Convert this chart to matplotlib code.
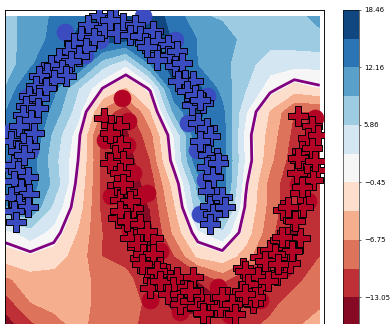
import numpy as np
import matplotlib
matplotlib.use('Agg')
import matplotlib.pyplot as plt

# decision-function grid (rows top -> bottom)
grid_x = [-1.10, -0.84, -0.60, -0.35, -0.10, 0.14, 0.39, 0.64, 0.88, 1.13, 1.37, 1.62, 1.87, 2.13]
grid_y = [1.02, 0.90, 0.77, 0.65, 0.53, 0.41, 0.28, 0.16, 0.04, -0.09, -0.21, -0.33, -0.46, -0.57]
grid_z = [
    [7.4, 10.6, 12.5, 14.5, 16, 17, 17, 14, 9.5, 8.5, 7.4, 7.5, 8, 10],
    [7.5, 10.5, 13, 16, 17, 16, 17, 15, 12, 10.5, 8, 7, 7.5, 8],
    [7, 11.5, 16, 15, 7, 3, 12, 17, 12, 10, 7, 4, 3.5, 3.5],
    [9, 16, 13, 6, 0, -4, 0.5, 15, 16, 11, 6, 1, -2, -0.5],
    [12, 16, 11, 4, -8, -12, -4, 10, 16, 13, 3, -4, -10, -10],
    [15, 16, 8, 1, -12, -14, -8, 3, 15, 14, 1.5, -5, -11, -13],
    [14, 14, 7, 0, -11, -15, -10, 2, 15, 14, 2, -6, -12, -13],
    [14, 14, 8, -1, -11, -15, -12, -2, 10, 14, 0.5, -8, -13, -13],
    [12, 12, 5, -2, -11, -14, -13, -4, 8, 12, -0.5, -8, -13, -13],
    [1.5, 4.5, 1.5, -4, -10, -12, -14, -6, 2, 5, -2, -9, -14, -11],
    [-2, -1, -2, -5, -10, -11, -13, -10, -3, -1.5, -5, -12, -13, -10],
    [-7.5, -5, -5, -5.5, -8, -9, -12, -14, -13, -9, -13, -13, -11, -8],
    [-12, -7, -6, -5.5, -8, -8, -11, -14, -14, -14, -13, -11, -8, -7],
    [-15, -11, -8, -6, -8, -9, -11, -12, -12, -12, -11, -9, -7, -6],
]

levels = [-16.19, -13.05, -9.9, -6.75, -3.6, -0.45, 2.71, 5.86, 9.01, 12.16, 15.31, 18.46]
cb_ticks = [-13.05, -6.75, -0.45, 5.86, 12.16, 18.46]

# class 0 (blue) test points
blue_x = [-0.133, -0.253, -0.082, -0.321, -0.185, -0.390, -0.270, -0.458, -0.338, -0.544,
          -0.424, -0.629, -0.510, -0.664, -0.749, -0.475, -0.595, -0.783, -0.680, -0.851,
          -0.749, -0.885, -0.766, -0.920, -0.834, -0.954, -0.800, -1.039, -0.920, -0.971,
          -0.851, -1.005, -0.903, -0.971, -0.869, -1.005, -0.936, -0.851, -1.039, -0.954,
          -0.869, -1.005, -0.988, 0.031, 0.116, 0.236, 0.048, 0.185, 0.287, 0.424,
          0.338, 0.475, 0.577, 0.458, 0.577, 0.664, 0.646, 0.715, 0.749, 0.834,
          0.680, 0.766, 0.936, 0.817, 0.885, 0.971, 1.005, 0.903, 0.988, 1.074,
          0.851, 0.971, 1.039, 0.988, 1.074, 1.005, 1.039, 1.005, 1.125, 1.159,
          -0.021, 0.359, 0.461, 0.903, 1.090]
blue_y = [1.019, 0.976, 0.959, 0.916, 0.908, 0.882, 0.856, 0.839, 0.814, 0.805,
          0.788, 0.771, 0.745, 0.728, 0.711, 0.711, 0.694, 0.660, 0.651, 0.609,
          0.600, 0.557, 0.549, 0.514, 0.489, 0.455, 0.420, 0.378, 0.369, 0.327,
          0.352, 0.258, 0.309, 0.227, 0.193, 0.176, 0.133, 0.108, 0.091, 0.056,
          0.039, 0.022, -0.037, 1.010, 0.985, 0.976, 0.933, 0.925, 0.916, 0.942,
          0.882, 0.891, 0.873, 0.822, 0.814, 0.839, 0.763, 0.779, 0.694, 0.686,
          0.686, 0.634, 0.574, 0.566, 0.472, 0.446, 0.404, 0.378, 0.309, 0.292,
          0.617, 0.245, 0.193, 0.125, 0.091, 0.048, 0.005, -0.046, 0.091, 0.039,
          1.000, 0.862, 0.795, 0.590, 0.265]

# class 0 (blue) training points
blue_cx = [-0.482, 0.318, -0.123, -0.872, -0.687, -1.067, -1.015, -0.923, 0.779, 0.974,
           0.872, 0.903, 1.005, 0.646, 0.082, -0.841, 0.954, -0.277]
blue_cy = [0.938, 1.021, 0.897, 0.605, 0.744, 0.420, 0.246, 0.128, 0.472, 0.610,
           0.333, 0.005, -0.021, 0.897, 0.949, 0.333, 0.179, 0.821]

# class 1 (red) test points
red_x = [-0.082, -0.013, 0.013, 0.065, 0.082, 0.031, 0.116, -0.021, -0.021, 0.082,
         0.051, 0.154, 0.082, 0.215, 0.062, 0.164, 0.256, 0.318, 0.185, 0.421,
         0.256, 0.390, 0.287, 0.492, 0.359, 0.421, 0.523, 0.390, 0.544, 0.116,
         0.185, 0.082, 0.151, 0.287, 0.356, 0.253, 0.321, 0.424, 0.305, 0.458,
         0.492, 0.664, 0.629, 0.577, 0.697, 0.766, 0.834, 0.697, 0.800, 0.903,
         0.869, 0.971, 0.971, 1.074, 0.800, 1.344, 1.518, 1.621, 1.723, 1.795,
         1.928, 1.856, 1.723, 1.826, 1.590, 1.692, 1.518, 1.446, 1.385, 1.282,
         1.179, 1.446, 1.108, 0.933, 1.754, 1.856, 1.959, 1.928, 2.000, 1.897,
         2.103, 2.062, 2.000, 1.928, 1.911, 2.048, 2.013, 2.116, 1.946, 2.048,
         1.911, 2.082, 1.946, 1.808, 1.877, 1.741, 1.843, 1.672, 1.569, 1.706,
         1.364, 1.500, 1.603, 1.398, 1.330, 1.467, 1.125, 1.228, 1.364, 1.262]
red_y = [0.497, 0.463, 0.395, 0.455, 0.360, 0.309, 0.275, 0.420, 0.267, 0.215,
         0.154, 0.118, 0.077, 0.036, -0.015, -0.036, -0.062, -0.087, -0.118, -0.118,
         -0.164, -0.205, -0.221, -0.267, -0.282, -0.333, -0.297, -0.374, -0.369, 0.159,
         0.073, 0.022, -0.029, -0.046, -0.081, -0.149, -0.200, -0.200, -0.251, -0.286,
         -0.337, -0.319, -0.371, -0.405, -0.405, -0.371, -0.319, -0.456, -0.439, -0.422,
         -0.473, -0.456, -0.508, -0.473, -0.388, -0.272, -0.215, -0.179, -0.128, -0.113,
         -0.118, -0.179, -0.231, -0.246, -0.297, -0.308, -0.369, -0.333, -0.421, -0.436,
         -0.421, -0.451, -0.472, -0.503, 0.026, -0.026, 0.041, 0.113, 0.179, 0.215,
         0.231, 0.179, 0.267, 0.282, 0.506, 0.455, 0.395, 0.412, 0.327, 0.344,
         0.292, 0.275, 0.142, 0.039, -0.029, -0.114, -0.183, -0.200, -0.234, -0.251,
         -0.286, -0.319, -0.337, -0.354, -0.388, -0.422, -0.422, -0.456, -0.405, -0.508]

# class 1 (red) training points
red_cx = [0.103, 0.164, 0.154, -0.010, 0.287, 0.492, 0.974, 2.010, 1.908, 1.087,
          2.082, -0.072, 0.390, 0.697, 1.518, 1.774, 1.210, 0.185, 0.215, 0.359]
red_cy = [0.600, 0.482, 0.359, 0.097, 0.097, -0.185, -0.441, 0.072, 0.159, -0.369,
          0.497, 0.385, -0.436, -0.497, -0.436, -0.272, -0.513, -0.077, 0.215, 0.113]

fig = plt.figure(figsize=(7.82, 6.48), dpi=50)
ax = fig.add_axes([5/391, -2/324, 319/391, 316/324])
cax = fig.add_axes([343/391, -2/324, 16/391, 316/324])

cs = ax.contourf(grid_x, grid_y, np.array(grid_z), levels=levels, cmap='RdBu')
ax.contour(grid_x, grid_y, np.array(grid_z), levels=[0], colors='purple', linewidths=4)

ax.scatter(blue_cx, blue_cy, s=600, c='#3b4cc0', zorder=3)
ax.scatter(red_cx, red_cy, s=600, c='#b40426', zorder=3)
ax.scatter(blue_x, blue_y, s=800, marker='P', c='#3b4cc0', edgecolors='black', linewidths=1.4, zorder=4)
ax.scatter(red_x, red_y, s=800, marker='P', c='#b40426', edgecolors='black', linewidths=1.4, zorder=4)

ax.set_xlim(-1.10, 2.174)
ax.set_ylim(-0.569, 1.051)
ax.set_xticks([])
ax.set_yticks([])
for sp in ax.spines.values():
    sp.set_linewidth(1.3)

cbar = fig.colorbar(cs, cax=cax, ticks=cb_ticks)
cbar.ax.set_yticklabels([f'{t:.2f}'.replace('-', '\u2212') for t in cb_ticks])
cbar.ax.tick_params(labelsize=10)

plt.savefig('out.png', dpi=50)
